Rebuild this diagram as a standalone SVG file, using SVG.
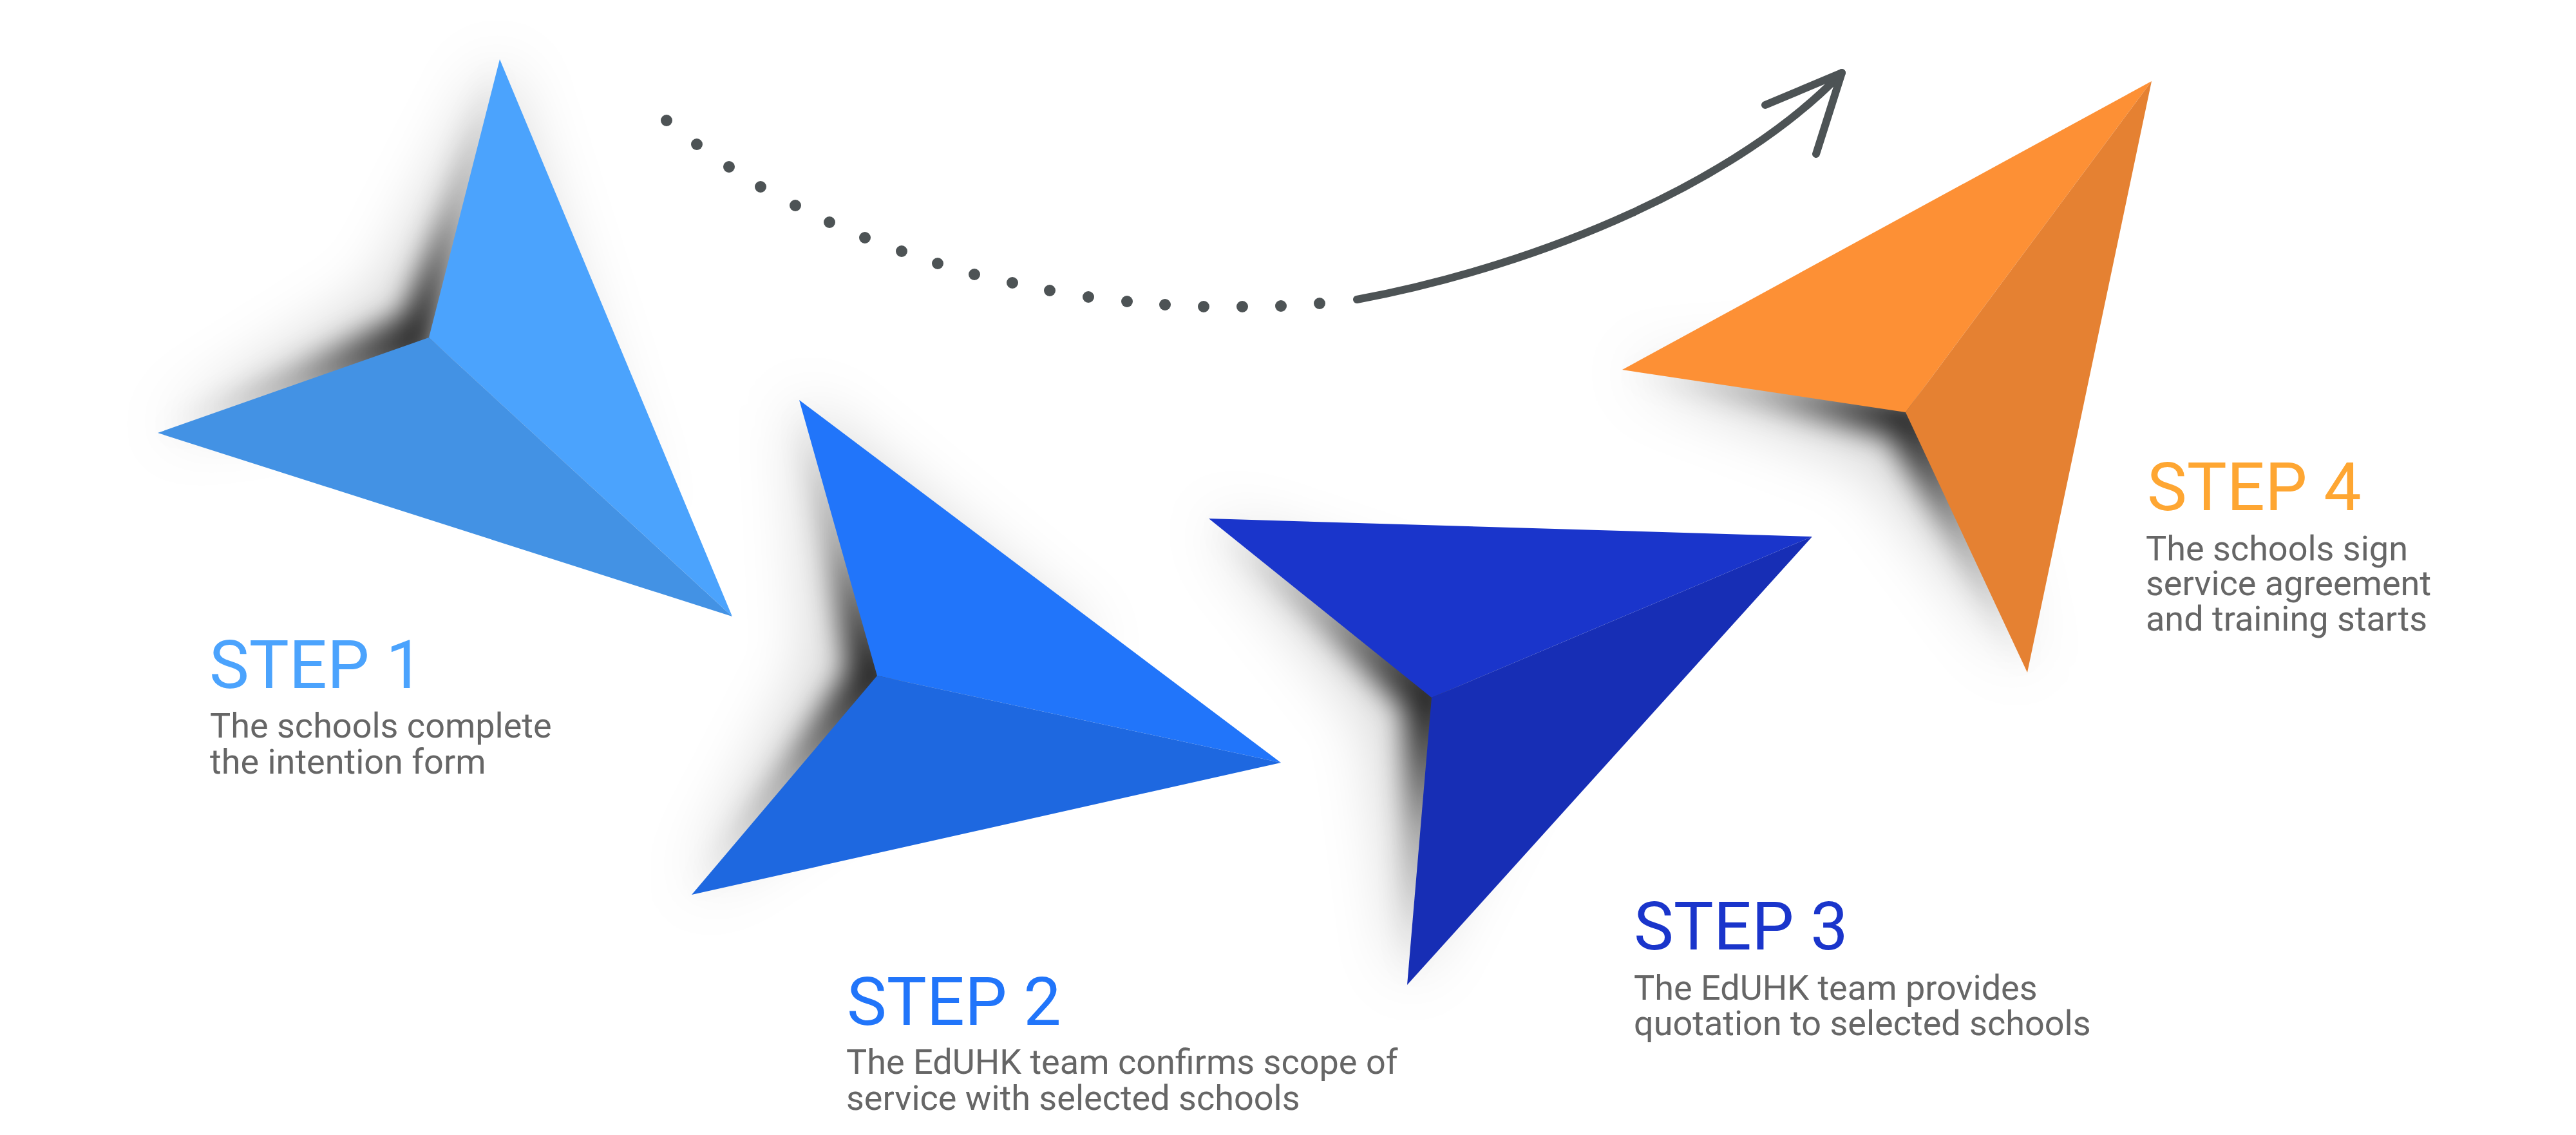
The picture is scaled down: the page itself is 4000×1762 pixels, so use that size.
<svg xmlns="http://www.w3.org/2000/svg" width="4000" height="1762" viewBox="0 0 4000 1762">
<style>
.head{font-family:Roboto,"Liberation Sans",sans-serif;font-size:104px;font-weight:400}
.desc{font-family:Roboto,"Liberation Sans",sans-serif;font-size:54px;fill:#666666}
.dot{fill:#4D5355}
.line{fill:none;stroke:#4D5355;stroke-width:12;stroke-linecap:round;stroke-linejoin:round}
.shadow{filter:url(#blur)}
.soft{filter:url(#blurWide);fill:#000;fill-opacity:0.16}
</style>
<defs>
<filter id="blur" x="-50%" y="-50%" width="200%" height="200%"><feGaussianBlur stdDeviation="20"/></filter>
<filter id="blurWide" x="-50%" y="-50%" width="200%" height="200%"><feGaussianBlur stdDeviation="48"/></filter>
<radialGradient id="g1" gradientUnits="userSpaceOnUse" cx="666" cy="524" r="480"><stop offset="0" stop-color="#000" stop-opacity="0.85"/><stop offset="0.45" stop-color="#000" stop-opacity="0.3"/><stop offset="1" stop-color="#000" stop-opacity="0.03"/></radialGradient>
<radialGradient id="g2" gradientUnits="userSpaceOnUse" cx="1362" cy="1049" r="480"><stop offset="0" stop-color="#000" stop-opacity="0.85"/><stop offset="0.45" stop-color="#000" stop-opacity="0.3"/><stop offset="1" stop-color="#000" stop-opacity="0.03"/></radialGradient>
<radialGradient id="g3" gradientUnits="userSpaceOnUse" cx="2223" cy="1083" r="480"><stop offset="0" stop-color="#000" stop-opacity="0.85"/><stop offset="0.45" stop-color="#000" stop-opacity="0.3"/><stop offset="1" stop-color="#000" stop-opacity="0.03"/></radialGradient>
<radialGradient id="g4" gradientUnits="userSpaceOnUse" cx="2959" cy="640" r="480"><stop offset="0" stop-color="#000" stop-opacity="0.85"/><stop offset="0.45" stop-color="#000" stop-opacity="0.3"/><stop offset="1" stop-color="#000" stop-opacity="0.03"/></radialGradient>
</defs>
<rect width="4000" height="1762" fill="#ffffff"/>

<g id="connectors">
<g id="dotted-path">
<circle class="dot" cx="1035" cy="187" r="9"/>
<circle class="dot" cx="1082" cy="224" r="9"/>
<circle class="dot" cx="1132" cy="259" r="9"/>
<circle class="dot" cx="1181" cy="290" r="9"/>
<circle class="dot" cx="1235" cy="319" r="9"/>
<circle class="dot" cx="1288" cy="345" r="9"/>
<circle class="dot" cx="1343" cy="369" r="9"/>
<circle class="dot" cx="1400" cy="390" r="9"/>
<circle class="dot" cx="1456" cy="409" r="9"/>
<circle class="dot" cx="1513" cy="426" r="9"/>
<circle class="dot" cx="1572" cy="439" r="9"/>
<circle class="dot" cx="1630" cy="451" r="9"/>
<circle class="dot" cx="1690" cy="461" r="9"/>
<circle class="dot" cx="1750" cy="468" r="9"/>
<circle class="dot" cx="1809" cy="473" r="9"/>
<circle class="dot" cx="1869" cy="476" r="9"/>
<circle class="dot" cx="1929" cy="476" r="9"/>
<circle class="dot" cx="1989" cy="475" r="9"/>
<circle class="dot" cx="2049" cy="471" r="9"/>
</g>
<path class="line" d="M2107,465 C2400,410 2700,280 2860,113"/>
<path class="line" d="M2741,163 L2860,113 L2820,239"/>
</g>

<g id="step1">
<polygon class="soft" points="776,92 590,455 245,672 666,600 1000,800"/>
<polygon class="shadow" fill="url(#g1)" points="776,92 625,487 245,672 666,560"/>
<polygon fill="#4BA3FD" points="776,92 666,524 1137,957"/>
<polygon fill="#4392E4" points="245,672 666,524 1137,957"/>
<text class="head" x="325" y="1068" fill="#4BA3FD">STEP 1</text>
<text class="desc" x="326" y="1145">The schools complete</text>
<text class="desc" x="326" y="1201">the intention form</text>
</g>

<g id="step2">
<polygon class="soft" points="1241,621 1262,1028 1074,1389 1500,1100 1700,1000"/>
<polygon class="shadow" fill="url(#g2)" points="1241,621 1315,1040 1074,1389 1400,1060"/>
<polygon fill="#2175FA" points="1241,621 1362,1049 1989,1184"/>
<polygon fill="#1E68E0" points="1074,1389 1362,1049 1989,1184"/>
<text class="head" x="1315" y="1591" fill="#2175FA">STEP 2</text>
<text class="desc" x="1314" y="1667">The EdUHK team confirms scope of</text>
<text class="desc" x="1314" y="1723">service with selected schools</text>
</g>

<g id="step3">
<polygon class="soft" points="1877,805 2131,1122 2185,1529 2400,1100 2300,950"/>
<polygon class="shadow" fill="url(#g3)" points="1877,805 2180,1102 2185,1529 2260,1060"/>
<polygon fill="#1A35CB" points="1877,805 2814,833 2223,1083"/>
<polygon fill="#172EB5" points="2814,833 2223,1083 2185,1529"/>
<text class="head" x="2537" y="1474" fill="#1A35CB">STEP 3</text>
<text class="desc" x="2537" y="1552">The EdUHK team provides</text>
<text class="desc" x="2537" y="1607">quotation to selected schools</text>
</g>

<g id="step4">
<polygon class="soft" points="2519,574 2900,720 3148,1044 3050,650 2800,560"/>
<polygon class="shadow" fill="url(#g4)" points="2519,574 2933,680 3148,1044 2990,620"/>
<polygon fill="#FD9035" points="3341,126 2519,574 2959,640"/>
<polygon fill="#E58132" points="3341,126 2959,640 3148,1044"/>
<text class="head" x="3334" y="792" fill="#FEA632">STEP 4</text>
<text class="desc" x="3332" y="870">The schools sign</text>
<text class="desc" x="3332" y="924">service agreement</text>
<text class="desc" x="3332" y="979">and training starts</text>
</g>
</svg>
